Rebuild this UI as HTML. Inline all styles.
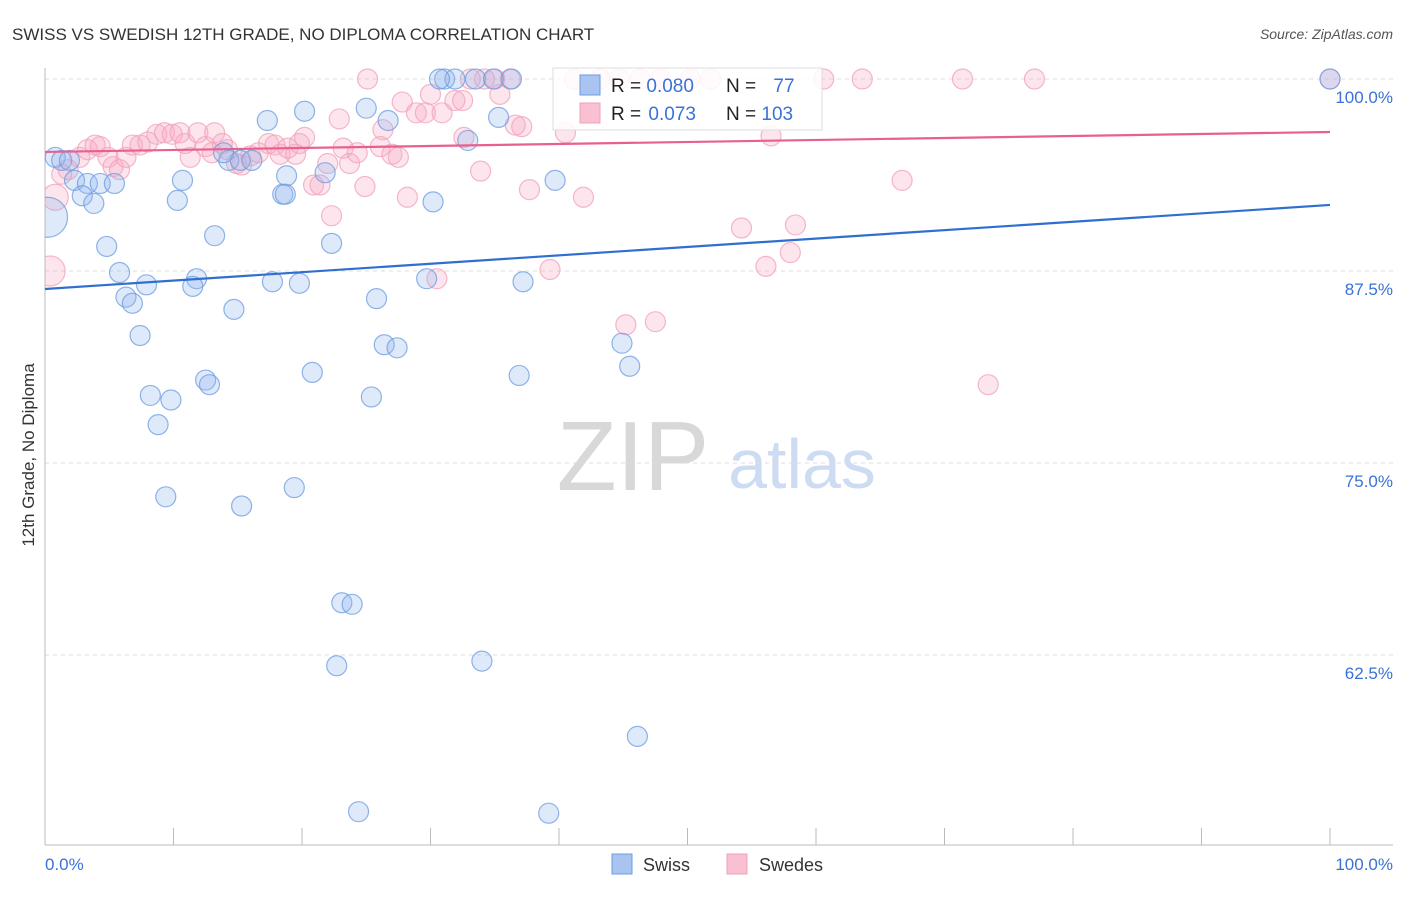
<!DOCTYPE html>
<html><head><meta charset="utf-8"><style>
body{margin:0;background:#fff;font-family:"Liberation Sans",sans-serif}
svg text{font-family:"Liberation Sans",sans-serif}
</style></head><body>
<svg id="chart" width="1406" height="892" viewBox="0 0 1406 892" xmlns="http://www.w3.org/2000/svg">
<defs><clipPath id="plotclip"><rect x="45" y="60" width="1360" height="785"/></clipPath></defs>
<text x="12" y="40" font-size="17" fill="#333">SWISS VS SWEDISH 12TH GRADE, NO DIPLOMA CORRELATION CHART</text>
<text x="1393" y="39" font-size="14" fill="#555" font-style="italic" text-anchor="end">Source: ZipAtlas.com</text>
<g>
<text x="633" y="490" font-size="98" fill="#d8d8d8" font-family="Liberation Serif" text-anchor="middle">ZIP</text>
<text x="802" y="488" font-size="70" fill="#cddcf2" text-anchor="middle">atlas</text>
</g>
<g id="grid"></g>
<g id="axes"></g>
<g id="pts" clip-path="url(#plotclip)"></g>
<g id="lines"></g>
<text transform="translate(34,455) rotate(-90)" font-size="17" fill="#333" text-anchor="middle">12th Grade, No Diploma</text>
<g>
<rect x="553" y="68" width="269" height="62" fill="#fff" fill-opacity="0.85" stroke="#ddd"/>
<rect x="580" y="75" width="20" height="20" fill="#a9c4f0" stroke="#6a9be0"/>
<rect x="580" y="103" width="20" height="20" fill="#f9c0d2" stroke="#f0a0b8"/>
<text x="611" y="92" font-size="19" fill="#222">R = <tspan fill="#3a72d6">0.080</tspan></text>
<text x="726" y="92" font-size="19" fill="#222">N = <tspan fill="#3a72d6" dx="12">77</tspan></text>
<text x="611" y="120" font-size="19" fill="#222">R = <tspan fill="#3a72d6" dx="2">0.073</tspan></text>
<text x="726" y="120" font-size="19" fill="#222">N = <tspan fill="#3a72d6">103</tspan></text>
</g>
<g>
<rect x="612" y="854" width="20" height="20" fill="#a9c4f0" stroke="#6a9be0"/>
<text x="643" y="871" font-size="18" fill="#333">Swiss</text>
<rect x="727" y="854" width="20" height="20" fill="#f9c0d2" stroke="#f0a0b8"/>
<text x="759" y="871" font-size="18" fill="#333">Swedes</text>
</g>
</svg>
<script>
const swissX=[0.8,1.3,2.3,3.3,4.3,5.4,2.9,3.8,10.7,10.3,4.8,13.2,17.3,20.2,25.0,26.7,31.1,31.9,33.5,34.9,36.3,35.3,32.9,39.7,18.8,18.5,21.8,22.3,30.2,14.3,15.2,16.1,13.9,5.8,7.9,11.8,11.5,17.7,19.8,6.3,6.8,14.7,25.8,29.7,37.2,7.4,26.4,27.4,44.9,45.5,36.9,20.8,12.5,12.8,8.2,9.8,25.4,8.8,9.4,15.3,19.4,23.1,23.9,22.7,34.0,46.1,24.4,39.2,100,0.2,1.9,18.7,30.7];
const swissY=[94.9,94.7,93.4,93.2,93.2,93.2,92.4,91.9,93.4,92.1,89.1,89.8,97.3,97.9,98.1,97.3,100,100,100,100,100,97.5,96.0,93.4,93.7,92.5,93.9,89.3,92.0,94.7,94.7,94.7,95.2,87.4,86.6,87.0,86.5,86.8,86.7,85.8,85.4,85.0,85.7,87.0,86.8,83.3,82.7,82.5,82.8,81.3,80.7,80.9,80.4,80.1,79.4,79.1,79.3,77.5,72.8,72.2,73.4,65.9,65.8,61.8,62.1,57.2,52.3,52.2,100,91.0,94.7,92.5,100];
const swissBig=[69];
const swedesX=[0.4,0.8,1.3,1.8,2.7,3.3,3.9,4.3,4.9,5.3,5.8,6.3,6.8,7.4,8.0,8.7,9.3,9.9,10.5,11.3,10.9,11.9,12.5,13.0,13.2,13.8,14.2,14.9,15.3,16.0,16.6,17.4,17.9,18.3,18.9,19.5,19.8,20.2,20.9,21.4,22.0,22.3,22.9,23.2,23.7,24.3,24.9,25.1,26.3,26.1,27.0,27.5,27.8,28.2,28.9,29.6,30.0,30.9,31.9,32.5,32.6,33.9,34.2,35.0,35.4,36.6,37.1,37.7,39.3,40.5,41.9,41.2,43.2,44.7,46.3,47.9,50.2,51.8,45.2,47.5,54.2,56.1,56.5,58.0,58.4,60.6,63.6,66.7,71.4,73.4,77.0,100,30.5,33.1,36.2];
const swedesY=[87.5,92.3,93.8,94.1,94.9,95.4,95.7,95.6,94.9,94.3,94.1,94.9,95.7,95.7,95.9,96.4,96.5,96.4,96.5,94.9,95.8,96.5,95.6,95.2,96.5,95.8,95.4,94.5,94.4,95.0,95.2,95.8,95.7,95.1,95.5,95.1,95.8,96.2,93.1,93.1,94.5,91.1,97.4,95.5,94.5,95.2,93.0,100,96.7,95.6,95.1,94.9,98.5,92.3,97.8,97.8,99.0,97.8,98.6,98.6,96.2,94.0,100,100,99.0,97.0,96.9,92.8,87.6,96.5,92.3,100,100,100,100,100,100,100,84.0,84.2,90.3,87.8,96.3,88.7,90.5,100,100,93.4,100,80.1,100,100,87.0,100,100];
const swedesBig=[0,1];
const swissTrend=[86.33,91.8];
const swedesTrend=[95.25,96.55];
const yTicks=[100,87.5,75,62.5];
const yTickLabels=["100.0%","87.5%","75.0%","62.5%"];
const xTicks=[0,10,20,30,40,50,60,70,80,90,100];

const NS="http://www.w3.org/2000/svg";
const X=v=>45+v*12.85;
const Y=v=>79+(100-v)*15.36;
function mk(tag,attrs,parent){const e=document.createElementNS(NS,tag);for(const k in attrs)e.setAttribute(k,attrs[k]);parent.appendChild(e);return e;}
const grid=document.getElementById('grid'),axes=document.getElementById('axes'),pts=document.getElementById('pts'),lines=document.getElementById('lines');
yTicks.forEach((t,i)=>{
 const l=mk('line',{x1:45,x2:1393,y1:Y(t),y2:Y(t),stroke:'#ddd','stroke-dasharray':'4,4'},grid);
 
 
 const tx=mk('text',{x:1393,y:Y(t)+24,'font-size':17,fill:'#3a72d6','text-anchor':'end'},axes);
 tx.textContent=yTickLabels[i];
 
 
});
const ax=mk('line',{x1:45,x2:1393,y1:845,y2:845,stroke:'#bbb'},axes);


const ay=mk('line',{x1:45,x2:45,y1:68,y2:845,stroke:'#bbb'},axes);


xTicks.forEach(t=>{
 const l=mk('line',{x1:X(t),x2:X(t),y1:828,y2:845,stroke:'#bbb'},axes);
 
 
});
const xl0=mk('text',{x:45,y:870,'font-size':17,fill:'#3a72d6','text-anchor':'start'},axes);xl0.textContent='0.0%';


const xl1=mk('text',{x:1393,y:870,'font-size':17,fill:'#3a72d6','text-anchor':'end'},axes);xl1.textContent='100.0%';


function series(xs,ys,big,bigR,fill,stroke,name){
 xs.forEach((x,i)=>{
  const r=big.includes(i)?bigR[big.indexOf(i)]:10;
  const c=mk('circle',{cx:X(x),cy:Y(ys[i]),r:r,fill:fill,'fill-opacity':0.3,stroke:stroke,'stroke-opacity':0.75,'stroke-width':1.2},pts);
  
  
 });
}
series(swedesX,swedesY,swedesBig,[15,13],'#f7a9c2','#f0a0b8','swedes-point');
series(swissX,swissY,swissBig,[20],'#92b6ee','#6a9be0','swiss-point');
const l1=mk('line',{x1:X(0),x2:X(100),y1:Y(swissTrend[0]),y2:Y(swissTrend[1]),stroke:'#2f6fd0','stroke-width':2.2},lines);


const l2=mk('line',{x1:X(0),x2:X(100),y1:Y(swedesTrend[0]),y2:Y(swedesTrend[1]),stroke:'#e8608f','stroke-width':2.2},lines);


</script>
</body></html>
